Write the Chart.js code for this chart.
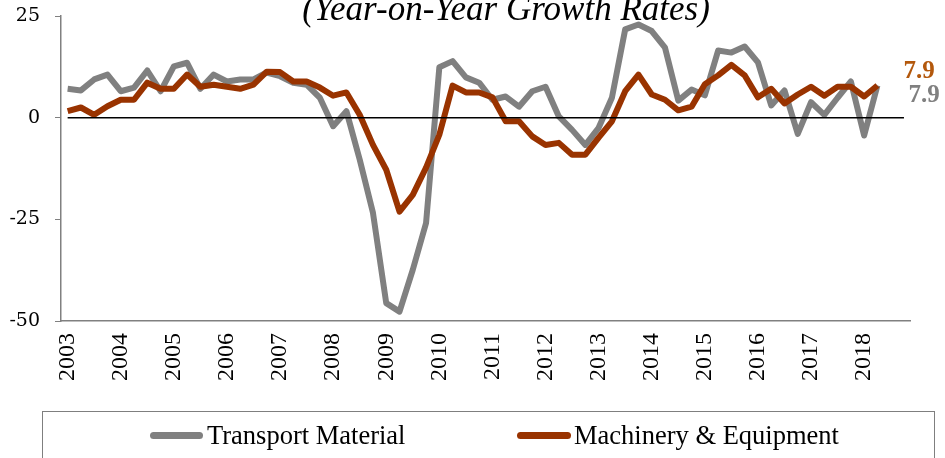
<!DOCTYPE html>
<html>
<head>
<meta charset="utf-8">
<script src="https://cdn.jsdelivr.net/npm/chart.js@4/dist/chart.umd.min.js"></script>
<style>
  html, body { margin: 0; padding: 0; background: #fff; }
  #wrap { position: relative; width: 945px; height: 458px; overflow: hidden; background: #fff; }
  #c { position: absolute; left: 0; top: 0; }
  #title { position: absolute; left: 0; top: -8px; width: 1012px; text-align: center;
           font: italic 35px/34px "Liberation Serif", serif; color: #000; white-space: nowrap; }
  #legendBox { position: absolute; left: 42px; top: 411px; width: 893px; height: 70px;
               box-sizing: border-box; border: 1.5px solid #7f7f7f; }
  .mk { position: absolute; height: 7px; border-radius: 3.5px; top: 432px; }
  .lt { position: absolute; top: 422px; font: 26.5px/26px "Liberation Serif", serif; color: #000; white-space: nowrap; }
</style>
</head>
<body>
<div id="wrap">
  <canvas id="c" width="945" height="458"></canvas>
  <div id="title">(Year-on-Year Growth Rates)</div>
  <div id="legendBox"></div>
  <div class="mk" style="left:150px;width:53px;background:#808080"></div>
  <div class="lt" style="left:207px">Transport Material</div>
  <div class="mk" style="left:517px;width:54px;background:#993300"></div>
  <div class="lt" style="left:574px">Machinery &amp; Equipment</div>
</div>
<script>
// ---- data (quarterly, y-o-y growth %, 2003Q1 .. 2018Q2) ----
const years = ["2003","2004","2005","2006","2007","2008","2009","2010",
               "2011","2012","2013","2014","2015","2016","2017","2018"];
const quarterNames = ["Q1","Q2","Q3","Q4"];

const transport = [
  7.1, 6.7, 9.4, 10.6,     // 2003
  6.5, 7.4, 11.6, 6.5,     // 2004
  12.6, 13.5, 7.1, 10.6,   // 2005
  8.9, 9.4, 9.4, 11.1,     // 2006
  10.2, 8.6, 8.1, 4.9,     // 2007
  -2.1, 1.6, -10.3, -23.4, // 2008
  -45.6, -47.7, -37.4, -25.9, // 2009
  12.4, 13.9, 9.9, 8.6,    // 2010
  4.4, 5.2, 2.7, 6.5,      // 2011
  7.6, 0.3, -3.0, -6.7,    // 2012
  -2.5, 4.9, 21.7, 22.9,   // 2013
  21.3, 17.2, 4.2, 6.9,    // 2014
  5.5, 16.5, 16.0, 17.5,   // 2015
  13.6, 3.0, 6.7, -4.0,    // 2016
  3.8, 0.7, 4.9, 8.9,      // 2017
  -4.4, 7.9                // 2018
];

const machinery = [
  1.6, 2.5, 0.7, 2.8,      // 2003
  4.4, 4.4, 8.6, 7.1,      // 2004
  7.1, 10.6, 7.6, 8.1,     // 2005
  7.6, 7.1, 8.1, 11.3,     // 2006
  11.2, 8.9, 8.9, 7.4,     // 2007
  5.4, 6.2, 0.7, -6.7,     // 2008
  -12.8, -23.1, -19.0, -12.3, // 2009
  -4.2, 7.9, 6.2, 6.2,     // 2010
  5.0, -0.9, -0.9, -4.6,   // 2011
  -6.7, -6.2, -9.1, -9.1,  // 2012
  -4.9, -0.9, 6.5, 10.6,   // 2013
  5.7, 4.4, 1.8, 2.7,      // 2014
  8.2, 10.4, 13.0, 10.4,   // 2015
  5.0, 7.1, 3.5, 5.7,      // 2016
  7.6, 5.4, 7.6, 7.6,      // 2017
  5.2, 7.9                 // 2018
];

const yTicks = { min: -50, max: 25, step: 25 };
const zeroLevel = 0;

// category axis: every quarter of 2003..2018
const quarters = [];
years.forEach(y => quarterNames.forEach(q => quarters.push(y + " " + q)));

const zeroLine = [
  { x: quarters[0], y: zeroLevel },
  { x: quarters[quarters.length - 1], y: zeroLevel }
];

const endLabels = {
  id: 'endLabels',
  afterDatasetsDraw(chart) {
    const { ctx } = chart;
    const xs = chart.scales.x, ys = chart.scales.y;
    const n = transport.length - 1;
    const x = xs.getPixelForValue(n);
    ctx.save();
    ctx.font = 'bold 25px "Liberation Serif", serif';
    ctx.textAlign = 'left';
    ctx.textBaseline = 'alphabetic';
    ctx.fillStyle = '#B3580C';
    ctx.fillText(machinery[n].toFixed(1), x + 26, ys.getPixelForValue(machinery[n]) - 8);
    ctx.fillStyle = '#808080';
    ctx.fillText(transport[n].toFixed(1), x + 31, ys.getPixelForValue(transport[n]) + 16);
    ctx.restore();
  }
};

new Chart(document.getElementById('c'), {
  type: 'line',
  data: {
    labels: quarters,
    datasets: [
      { label: 'zero', data: zeroLine, borderColor: '#000', borderWidth: 1.5,
        pointRadius: 0, order: 0 },
      { label: 'Machinery & Equipment', data: machinery, borderColor: '#993300',
        borderWidth: 6, pointRadius: 0, borderJoinStyle: 'round', order: 1 },
      { label: 'Transport Material', data: transport, borderColor: '#808080',
        borderWidth: 6, pointRadius: 0, borderJoinStyle: 'round', order: 2 }
    ]
  },
  options: {
    responsive: false,
    animation: false,
    devicePixelRatio: 1,
    layout: { padding: { left: 0, right: 30, top: 16, bottom: 0 } },
    plugins: { legend: { display: false }, tooltip: { enabled: false } },
    scales: {
      x: {
        type: 'category',
        offset: true,
        grid: { display: false, drawTicks: false },
        border: { display: true, color: '#808080', width: 1.5 },
        ticks: {
          autoSkip: false, minRotation: 90, maxRotation: 90, padding: 12,
          color: '#000', font: { family: 'Liberation Serif', size: 24 },
          callback: (v, i) => (i % 4 === 0 ? years[i / 4] : '')
        },
        afterFit: s => { s.height = 137; }
      },
      y: {
        min: yTicks.min, max: yTicks.max,
        ticks: { stepSize: yTicks.step, padding: 15, color: '#000',
                 font: { family: 'DejaVu Serif', size: 19 } },
        grid: { display: true, drawOnChartArea: false, tickLength: 6, color: '#808080' },
        border: { display: true, color: '#808080', width: 1.5 },
        afterFit: s => { s.width = 61; s.paddingTop = 0; s.paddingBottom = 0; }
      }
    }
  },
  plugins: [endLabels]
});
</script>
</body>
</html>
